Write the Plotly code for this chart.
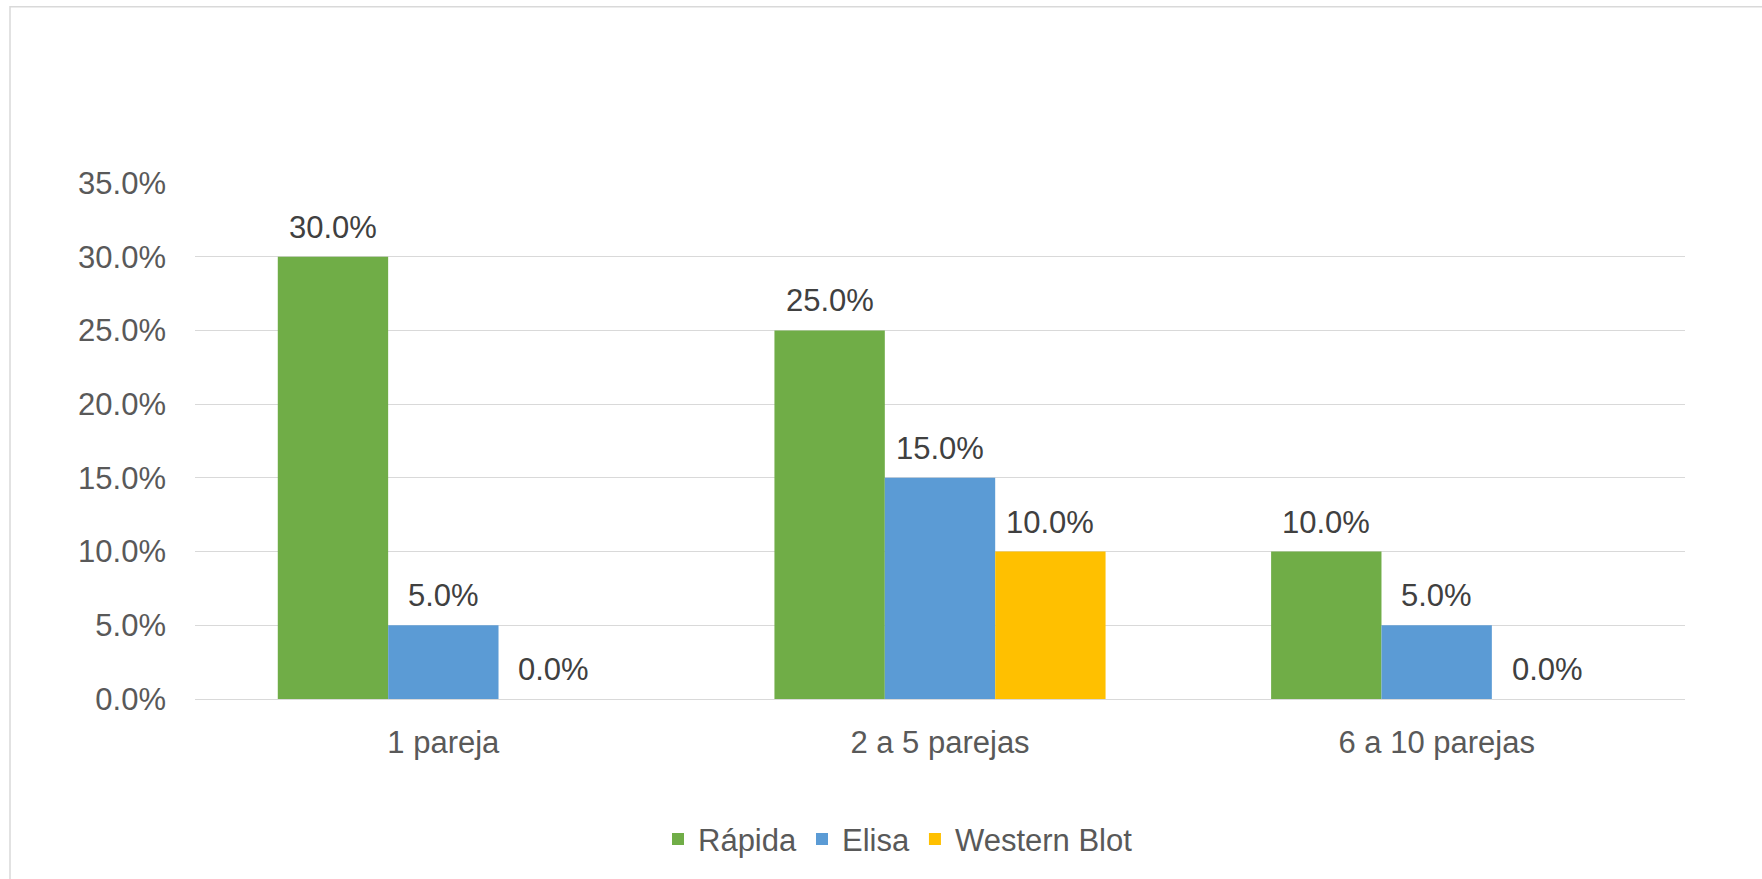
import plotly.graph_objects as go

# Chart data
categories = ["1 pareja", "2 a 5 parejas", "6 a 10 parejas"]
series_names = ["Rápida", "Elisa", "Western Blot"]
rapida = [0.30, 0.25, 0.10]
elisa = [0.05, 0.15, 0.05]
western_blot = [0.00, 0.10, 0.00]
y_ticks = [0.0, 0.05, 0.10, 0.15, 0.20, 0.25, 0.30, 0.35]

colors = ["#70AD47", "#5B9BD5", "#FFC000"]
series_values = [rapida, elisa, western_blot]

FONT = "Arial, 'Liberation Sans', sans-serif"
AXIS_COLOR = "#595959"
LABEL_COLOR = "#404040"
GRID_COLOR = "#D9D9D9"
BARGAP = 1 / 3

W, H = 1762, 879
M_L, M_R, M_T, M_B = 195, 77, 183, 178
plot_w = W - M_L - M_R
plot_h = H - M_T - M_B

fig = go.Figure()
for name, vals, col in zip(series_names, series_values, colors):
    fig.add_trace(go.Bar(
        name=name,
        x=categories,
        y=vals,
        marker=dict(color=col, line=dict(width=0)),
    ))

# Value labels above each bar
n_series = len(series_values)
bar_w = (1 - BARGAP) / n_series
annotations = []
for j, vals in enumerate(series_values):
    offset = (j - (n_series - 1) / 2) * bar_w
    for i, v in enumerate(vals):
        annotations.append(dict(
            x=i + offset, y=v, xref="x", yref="y",
            text=f"{v * 100:.1f}%",
            showarrow=False, yanchor="bottom", xanchor="center",
            yshift=10,
            font=dict(family=FONT, size=31, color=LABEL_COLOR),
        ))

# Chart-area frame
shapes = [dict(
    type="rect", xref="paper", yref="paper",
    x0=(10 - M_L) / plot_w, x1=(W + 20 - M_L) / plot_w,
    y0=-(M_B + 20) / plot_h, y1=(H - M_B - 6) / plot_h,
    line=dict(color=GRID_COLOR, width=1.5),
    fillcolor="rgba(0,0,0,0)", layer="below",
)]

fig.update_layout(
    width=W, height=H,
    margin=dict(l=M_L, r=M_R, t=M_T, b=M_B, pad=0),
    paper_bgcolor="white", plot_bgcolor="white",
    barmode="group", bargap=BARGAP, bargroupgap=0,
    font=dict(family=FONT, size=31, color=AXIS_COLOR),
    showlegend=True,
    legend=dict(
        orientation="h", xanchor="center", yanchor="middle",
        x=(898 - M_L) / plot_w, y=(H - M_B - 842) / plot_h,
        font=dict(family=FONT, size=31, color=AXIS_COLOR),
        itemwidth=30, traceorder="normal",
    ),
    xaxis=dict(
        type="category", showgrid=False, zeroline=False,
        showline=False, ticks="", ticklabelstandoff=22,
        tickfont=dict(family=FONT, size=31, color=AXIS_COLOR),
    ),
    yaxis=dict(
        range=[0, 0.35], tickvals=y_ticks, tickformat=".1%",
        showgrid=True, gridcolor=GRID_COLOR, gridwidth=1.3,
        zeroline=True, zerolinecolor=GRID_COLOR, zerolinewidth=1.3,
        showline=False, ticks="", ticklabelstandoff=28,
        tickfont=dict(family=FONT, size=31, color=AXIS_COLOR),
    ),
    annotations=annotations,
    shapes=shapes,
)

fig.write_html("out.html")
